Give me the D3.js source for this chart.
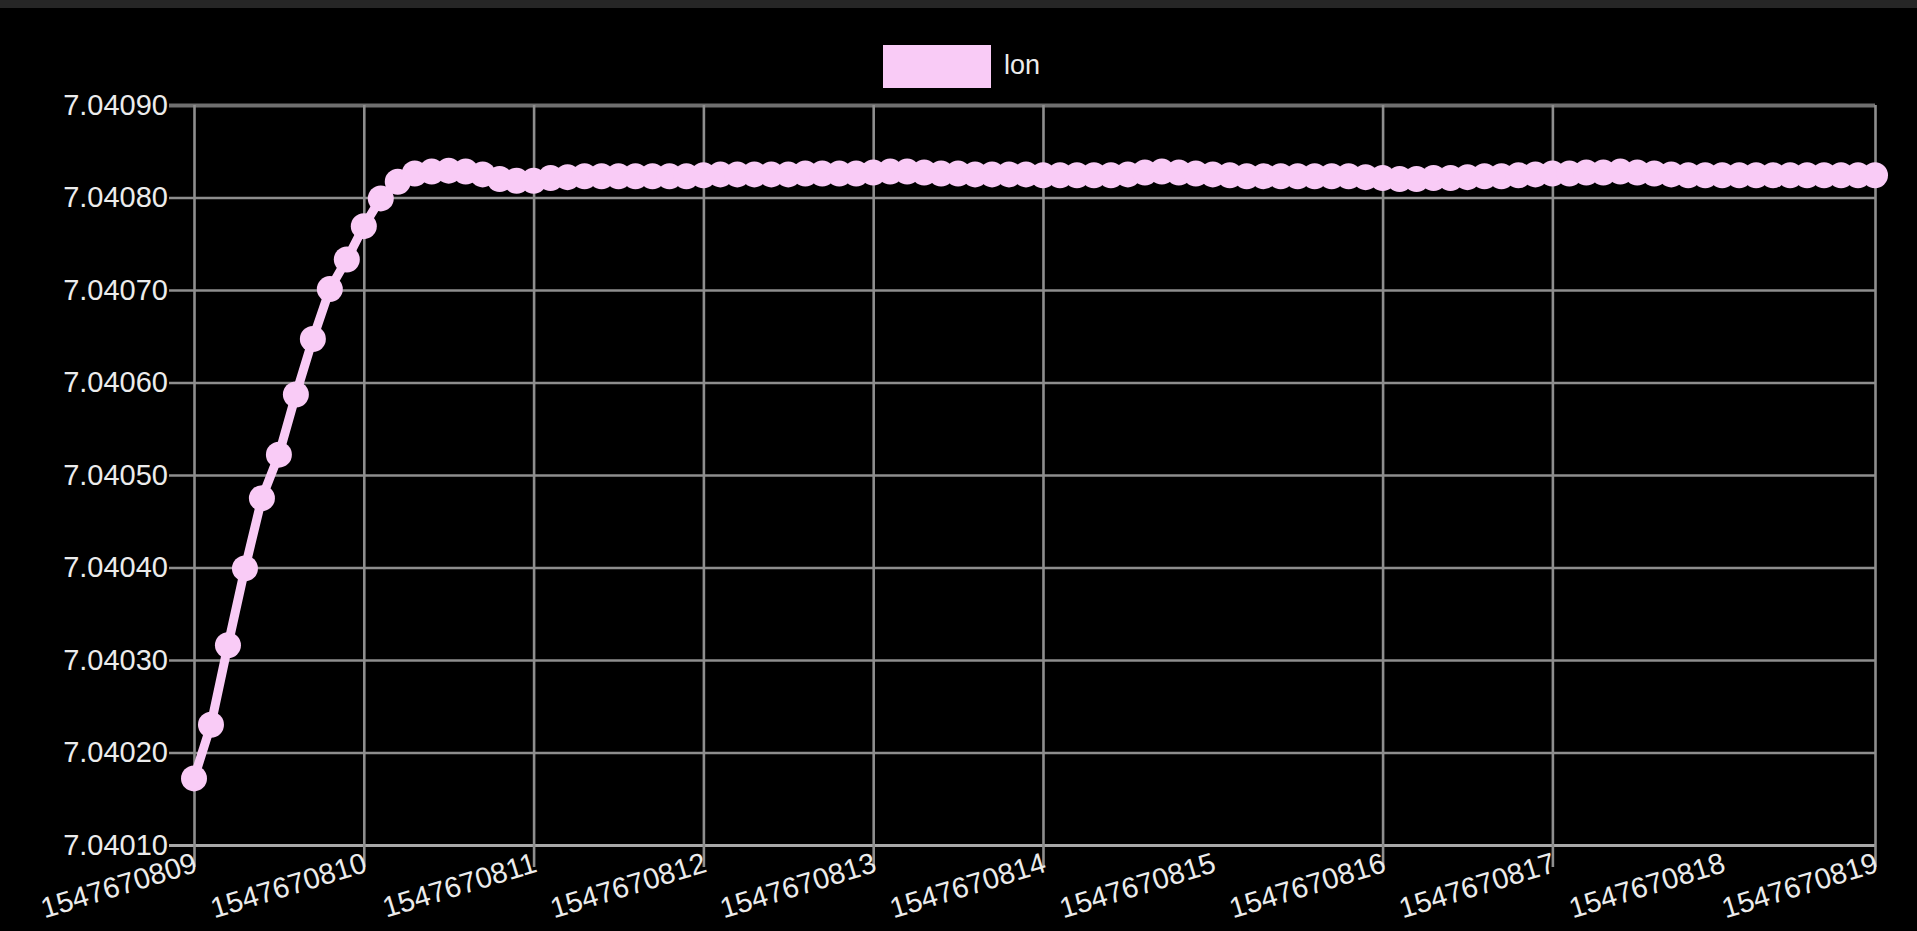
<!DOCTYPE html>
<html><head><meta charset="utf-8">
<script src="https://cdn.jsdelivr.net/npm/d3@7"></script>
<style>html,body{margin:0;padding:0;background:#000;overflow:hidden}</style>
</head><body>
<svg id="c" width="1917" height="931"></svg>
<script>
const seriesName = "lon";
const timeBase = 1547670809;
const sampleOffsets = [
  0.0,0.1,0.2,0.3,0.4,0.5,0.6,0.7,0.8,0.9,
  1.0,1.1,1.2,1.3,1.4,1.5,1.6,1.7,1.8,1.9,
  2.0,2.1,2.2,2.3,2.4,2.5,2.6,2.7,2.8,2.9,
  3.0,3.1,3.2,3.3,3.4,3.5,3.6,3.7,3.8,3.9,
  4.0,4.1,4.2,4.3,4.4,4.5,4.6,4.7,4.8,4.9,
  5.0,5.1,5.2,5.3,5.4,5.5,5.6,5.7,5.8,5.9,
  6.0,6.1,6.2,6.3,6.4,6.5,6.6,6.7,6.8,6.9,
  7.0,7.1,7.2,7.3,7.4,7.5,7.6,7.7,7.8,7.9,
  8.0,8.1,8.2,8.3,8.4,8.5,8.6,8.7,8.8,8.9,
  9.0,9.1,9.2,9.3,9.4,9.5,9.6,9.7,9.8,9.9
];
const lonValues = [
  7.040172,7.040230,7.040316,7.040399,7.040475,7.040522,7.040587,7.040647,7.040701,7.040733,
  7.040769,7.040799,7.040817,7.040826,7.040828,7.040829,7.040828,7.040825,7.040820,7.040818,
  7.040818,7.040821,7.040822,7.040823,7.040823,7.040823,7.040823,7.040823,7.040823,7.040823,
  7.040824,7.040825,7.040825,7.040825,7.040825,7.040825,7.040826,7.040826,7.040826,7.040826,
  7.040827,7.040828,7.040828,7.040827,7.040826,7.040826,7.040825,7.040825,7.040825,7.040825,
  7.040824,7.040824,7.040824,7.040824,7.040824,7.040825,7.040827,7.040828,7.040827,7.040826,
  7.040825,7.040824,7.040823,7.040823,7.040823,7.040823,7.040823,7.040823,7.040823,7.040822,
  7.040821,7.040820,7.040820,7.040821,7.040821,7.040822,7.040823,7.040823,7.040824,7.040825,
  7.040826,7.040826,7.040827,7.040827,7.040828,7.040827,7.040826,7.040825,7.040824,7.040824,
  7.040824,7.040824,7.040824,7.040824,7.040824,7.040824,7.040824,7.040824,7.040824,7.040824
];
const yTickValues = [7.04010,7.04020,7.04030,7.04040,7.04050,7.04060,7.04070,7.04080,7.04090];
const xTickOffsets = [0,1,2,3,4,5,6,7,8,9,9.9];
const xTickLabels = ["1547670809","1547670810","1547670811","1547670812","1547670813","1547670814","1547670815","1547670816","1547670817","1547670818","1547670819"];
const xGridHidden = ["1547670815","1547670818"];

const W = 1917, H = 931;
const m = {left:194, right:1875, top:105, bottom:845};
const pink = "#f9cbf6";
const font = "'Liberation Sans', Arial, Helvetica, sans-serif";

const svg = d3.select("#c");
svg.append("rect").attr("width",W).attr("height",H).attr("fill","#000");
svg.append("rect").attr("width",W).attr("height",8).attr("fill","#262626");

const x = d3.scaleLinear().domain([0, 9.9]).range([m.left, m.right]);
const y = d3.scaleLinear().domain([7.04010, 7.04090]).range([m.bottom, m.top]);

// horizontal grid + y ticks
const yAxis = d3.axisLeft(y).tickValues(yTickValues).tickFormat(d3.format(".5f"))
  .tickSize(-(m.right - m.left)).tickSizeOuter(0).tickPadding(0);
const gy = svg.append("g").attr("transform", `translate(${m.left},0)`).call(yAxis);
gy.select(".domain").remove();
gy.selectAll(".tick line").attr("x1", -25).attr("stroke", "#8e8e8e").attr("stroke-width", 2.6);
gy.selectAll(".tick text").attr("x", -26).attr("fill", "#ececec")
  .style("font-family", font).style("font-size", "29px");
gy.selectAll(".tick").filter(d => d === 7.04090).select("line").attr("stroke","#6f6f6f").attr("stroke-width",4);
gy.selectAll(".tick").filter(d => d === 7.04010).select("line").attr("stroke","#a8a8a8").attr("stroke-width",3);

// vertical grid + x ticks
const xAxis = d3.axisBottom(x).tickValues(xTickOffsets)
  .tickFormat((d,i) => xTickLabels[i]).tickSize(-(m.bottom - m.top)).tickSizeOuter(0);
const gx = svg.append("g").attr("transform", `translate(0,${m.bottom})`).call(xAxis);
gx.select(".domain").remove();
gx.selectAll(".tick line").attr("y1", 22).attr("stroke", "#8e8e8e").attr("stroke-width", 2.6);
gx.selectAll(".tick").filter((d,i) => xGridHidden.includes(xTickLabels[i])).select("line").remove();
gx.selectAll(".tick text")
  .attr("y", 0).attr("dy", null)
  .attr("text-anchor", "end")
  .attr("dominant-baseline", "middle")
  .attr("transform", "translate(2,19) rotate(-17)")
  .attr("fill", "#ececec")
  .style("font-family", font).style("font-size", "29px");

// series
const pts = sampleOffsets.map((t,i) => ({t, v: lonValues[i]}));
const line = d3.line().x(d => x(d.t)).y(d => y(d.v));
svg.append("path").datum(pts).attr("d", line)
  .attr("fill","none").attr("stroke",pink).attr("stroke-width",9).attr("stroke-linejoin","round");
svg.append("g").selectAll("circle").data(pts).join("circle")
  .attr("cx", d => x(d.t)).attr("cy", d => y(d.v)).attr("r", 13)
  .attr("fill", pink);

// legend
const lg = svg.append("g");
lg.append("rect").attr("x", 883).attr("y", 45).attr("width", 108).attr("height", 43).attr("fill", pink);
lg.append("text").attr("x", 1004).attr("y", 67).attr("dominant-baseline","middle")
  .attr("fill","#ececec").style("font-family",font).style("font-size","27px").text(seriesName);
</script>
</body></html>
